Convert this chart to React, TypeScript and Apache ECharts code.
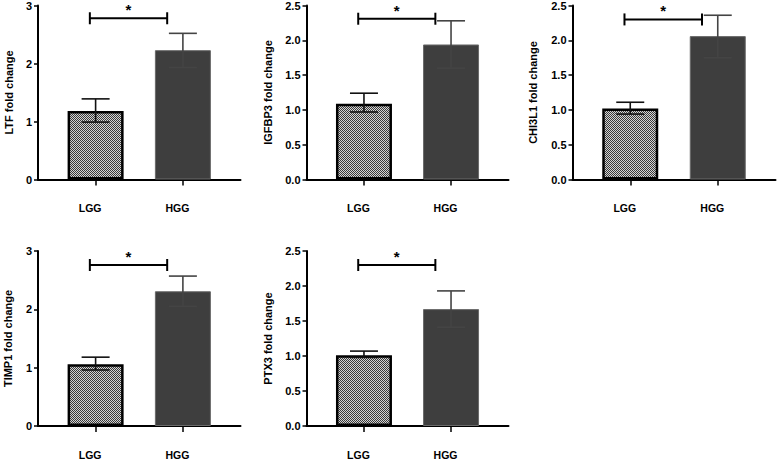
import React, { useEffect, useRef } from "react";
import * as echarts from "echarts";

const categories = ["LGG", "HGG"];
const genes = ["LTF", "IGFBP3", "CHI3L1", "TIMP1", "PTX3"];
const meanLGG = [1.18, 1.09, 1.02, 1.06, 1.01];
const meanHGG = [2.23, 1.94, 2.06, 2.31, 1.67];
const lowLGG = [0.99, 0.97, 0.94, 0.96, 0.98];
const highLGG = [1.39, 1.24, 1.11, 1.18, 1.07];
const lowHGG = [1.93, 1.6, 1.75, 2.05, 1.41];
const highHGG = [2.52, 2.28, 2.36, 2.57, 1.93];
const yMax = [3, 2.5, 2.5, 3, 2.5];
const yStep = [1, 0.5, 0.5, 1, 0.5];
const yDecimals = [0, 1, 1, 0, 1];
const bracketY = [2.78, 2.31, 2.3, 2.76, 2.3];
const significance = ["*", "*", "*", "*", "*"];

const FONT = "'Liberation Sans', Arial, Helvetica, sans-serif";

function makePattern(): HTMLCanvasElement {
  const c = document.createElement("canvas");
  c.width = 4;
  c.height = 4;
  const ctx = c.getContext("2d")!;
  ctx.fillStyle = "#d4d4d4";
  ctx.fillRect(0, 0, 4, 4);
  ctx.fillStyle = "#3a3a3a";
  for (let y = 0; y < 4; y++) {
    for (let x = 0; x < 4; x++) {
      if ((x + y) % 2 === 0) ctx.fillRect(x, y, 1, 1);
    }
  }
  return c;
}

export default function App() {
  const ref = useRef<HTMLDivElement>(null);

  useEffect(() => {
    if (!ref.current) return;
    const chart = echarts.init(ref.current, undefined, { renderer: "svg" });

    const XMIN = -0.66;
    const XMAX = 1.66;
    const grids = [
      { left: 38, top: 5, width: 202.5, height: 174.5 },
      { left: 306.5, top: 5, width: 202, height: 174.5 },
      { left: 572.5, top: 5, width: 203, height: 174.5 },
      { left: 38, top: 251, width: 202.5, height: 175 },
      { left: 306.5, top: 251, width: 202, height: 175 },
    ];
    // label-only grids: category bands centred (slightly left) on x = 0 and x = 1 of the main axis
    const labelGrids = grids.map((g) => {
      const unit = g.width / (XMAX - XMIN);
      return {
        left: g.left + (-XMIN - 0.5) * unit - 5.5,
        width: 2 * unit,
        top: g.top,
        height: g.height,
      };
    });
    const nameGaps = [24, 33, 34, 25, 33];
    const bracketFrom = -0.066;
    const bracketTo = 0.82;

    const lggStyle = {
      color: { image: makePattern(), repeat: "repeat" },
      borderColor: "#000",
      borderWidth: 2.5,
    };
    const hggStyle = { color: "#3e3e3e", borderColor: "#6a6a6a", borderWidth: 1 };

    const xAxes: any[] = [];
    const yAxes: any[] = [];
    const series: any[] = [];

    genes.forEach((g, i) => {
      xAxes.push({
        type: "value",
        gridIndex: i,
        min: XMIN,
        max: XMAX,
        splitLine: { show: false },
        axisLine: { show: true, onZero: false, lineStyle: { color: "#000", width: 2 } },
        axisTick: { show: true, customValues: [0, 1], length: 6, lineStyle: { color: "#000", width: 1.5 } },
        axisLabel: { show: false },
      });
      yAxes.push({
        type: "value",
        gridIndex: i,
        min: 0,
        max: yMax[i],
        interval: yStep[i],
        name: g + " fold change",
        nameLocation: "middle",
        nameGap: nameGaps[i],
        nameTextStyle: { color: "#000", fontFamily: FONT, fontWeight: "bold", fontSize: 11 },
        splitLine: { show: false },
        axisLine: { show: true, onZero: false, lineStyle: { color: "#000", width: 2 } },
        axisTick: { show: true, length: 4, lineStyle: { color: "#000", width: 1.5 } },
        axisLabel: {
          margin: 6,
          color: "#000",
          fontFamily: FONT,
          fontWeight: "bold",
          fontSize: 11,
          formatter: (v: number) => v.toFixed(yDecimals[i]),
        },
      });
      series.push({
        type: "bar",
        xAxisIndex: i,
        yAxisIndex: i,
        barWidth: 56,
        data: [
          { value: [0, meanLGG[i]], itemStyle: lggStyle },
          { value: [1, meanHGG[i]], itemStyle: hggStyle },
        ],
        z: 2,
      });
      // error bars
      series.push({
        type: "custom",
        xAxisIndex: i,
        yAxisIndex: i,
        z: 5,
        encode: { x: 0, y: [1, 2] },
        data: [
          [0, lowLGG[i], highLGG[i]],
          [1, lowHGG[i], highHGG[i]],
        ],
        renderItem: (params: any, api: any) => {
          const x = api.value(0);
          const lo = api.coord([x, api.value(1)]);
          const hi = api.coord([x, api.value(2)]);
          const hw = 14;
          const st = { stroke: params.dataIndex === 0 ? "#111" : "#444", lineWidth: 1.6 };
          return {
            type: "group",
            children: [
              { type: "line", shape: { x1: lo[0], y1: lo[1], x2: hi[0], y2: hi[1] }, style: st },
              { type: "line", shape: { x1: hi[0] - hw, y1: hi[1], x2: hi[0] + hw, y2: hi[1] }, style: st },
              { type: "line", shape: { x1: lo[0] - hw, y1: lo[1], x2: lo[0] + hw, y2: lo[1] }, style: st },
            ],
          };
        },
      });
      // significance bracket
      series.push({
        type: "custom",
        xAxisIndex: i,
        yAxisIndex: i,
        z: 6,
        encode: { x: [0, 1], y: 2 },
        data: [[bracketFrom, bracketTo, bracketY[i]]],
        renderItem: (params: any, api: any) => {
          const a = api.coord([api.value(0), api.value(2)]);
          const b = api.coord([api.value(1), api.value(2)]);
          const st = { stroke: "#000", lineWidth: 2 };
          return {
            type: "group",
            children: [
              { type: "line", shape: { x1: a[0], y1: a[1], x2: b[0], y2: b[1] }, style: st },
              { type: "line", shape: { x1: a[0], y1: a[1] - 6, x2: a[0], y2: a[1] + 6 }, style: st },
              { type: "line", shape: { x1: b[0], y1: b[1] - 6, x2: b[0], y2: b[1] + 6 }, style: st },
              {
                type: "text",
                x: (a[0] + b[0]) / 2,
                y: a[1] - 1,
                style: {
                  text: significance[i],
                  fill: "#000",
                  font: `bold 15px ${FONT}`,
                  textAlign: "center",
                  textVerticalAlign: "bottom",
                },
              },
            ],
          };
        },
      });
    });

    // label-only category axes
    genes.forEach((_, i) => {
      const gi = grids.length + i;
      xAxes.push({
        type: "category",
        gridIndex: gi,
        data: categories,
        axisLine: { show: false },
        axisTick: { show: false },
        splitLine: { show: false },
        axisLabel: {
          margin: 23,
          interval: 0,
          color: "#000",
          fontFamily: FONT,
          fontWeight: "bold",
          fontSize: 10.5,
        },
      });
      yAxes.push({ type: "value", gridIndex: gi, show: false, min: 0, max: 1 });
    });

    chart.setOption({
      animation: false,
      backgroundColor: "#fff",
      grid: [...grids, ...labelGrids].map((g) => ({ ...g, containLabel: false })),
      xAxis: xAxes,
      yAxis: yAxes,
      series,
    });

    return () => chart.dispose();
  }, []);

  return (
    <div
      ref={ref}
      style={{ position: "absolute", left: 0, top: 0, width: 777, height: 470, background: "#fff" }}
    />
  );
}
